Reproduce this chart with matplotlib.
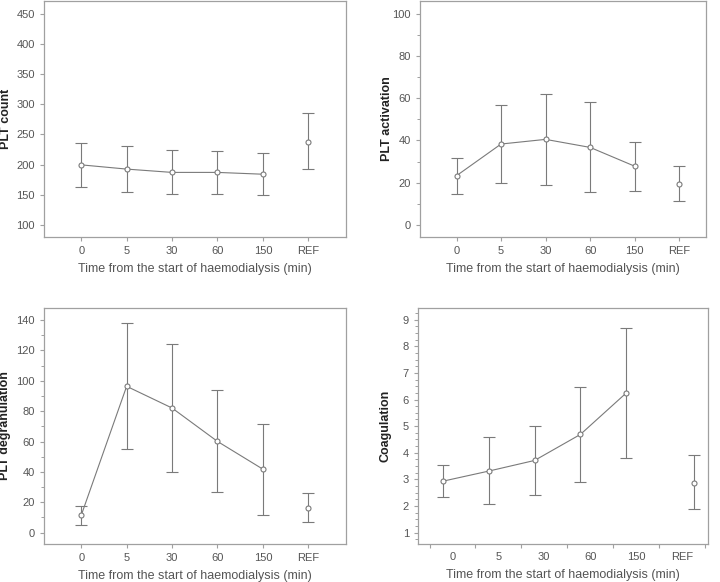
import numpy as np
import matplotlib
matplotlib.use('Agg')
import matplotlib.pyplot as plt
from matplotlib.ticker import MultipleLocator, FixedLocator, NullFormatter

plt.rcParams['font.family'] = ['Liberation Sans', 'DejaVu Sans']

categories = ['0', '5', '30', '60', '150', 'REF']

# PLT count
count_mean = [199.5, 192.5, 187, 187, 184, 238]
count_low = [162.7, 153.9, 151, 151, 149.5, 191.9]
count_high = [235.4, 231.5, 223.8, 223, 218.9, 285]

# PLT activation
act_mean = [23.3, 38.3, 40.5, 36.7, 27.8, 19.5]
act_low = [14.7, 19.7, 18.8, 15.5, 16.2, 11.3]
act_high = [31.9, 57, 61.9, 58.3, 39.2, 27.8]

# PLT degranulation
deg_mean = [11.4, 96.4, 82.1, 60.1, 41.8, 16.5]
deg_low = [5.3, 55.2, 40.1, 26.9, 11.4, 6.8]
deg_high = [17.8, 138, 124.1, 93.7, 71.8, 26.2]

# Coagulation
coag_mean = [2.93, 3.31, 3.71, 4.69, 6.25, 2.88]
coag_low = [2.32, 2.06, 2.43, 2.91, 3.79, 1.87]
coag_high = [3.53, 4.59, 5.0, 6.46, 8.69, 3.90]

LINE = '#7a7a7a'
SPINE = '#a0a0a0'
TXT = '#555555'

fig = plt.figure(figsize=(7.2, 5.82), dpi=100)

def panel(rect, mean, low, high, ylabel, ylim, major, minor=None,
          xlim=(-0.82, 5.83), offset=0.0, ref_offset=0.0, half_ticks=False,
          ylab_x=-0.1):
    ax = fig.add_axes(rect)
    mean = np.array(mean)
    low = np.array(low)
    high = np.array(high)
    x = np.arange(len(categories)).astype(float)
    x[:5] += offset
    x[5] += ref_offset
    yerr = [mean - low, high - mean]
    ax.errorbar(x[:5], mean[:5], yerr=[yerr[0][:5], yerr[1][:5]], fmt='o-',
                color=LINE, lw=0.8, elinewidth=0.8, capsize=4.5, capthick=0.8,
                ms=3.6, mfc='white', mec=LINE, mew=0.8)
    ax.errorbar(x[5:], mean[5:], yerr=[yerr[0][5:], yerr[1][5:]], fmt='o',
                color=LINE, elinewidth=0.8, capsize=4.5, capthick=0.8,
                ms=3.6, mfc='white', mec=LINE, mew=0.8)
    ax.set_xlim(*xlim)
    ax.set_ylim(*ylim)
    ax.yaxis.set_major_locator(MultipleLocator(major))
    if minor:
        ax.yaxis.set_minor_locator(MultipleLocator(minor))
    if half_ticks:
        ax.set_xticks(np.arange(-0.5, 6.0, 1.0))
        ax.xaxis.set_major_formatter(NullFormatter())
        ax.xaxis.set_minor_locator(FixedLocator(np.arange(6)))
        ax.set_xticklabels(categories, minor=True)
        ax.tick_params(axis='x', which='minor', length=0, labelsize=8,
                       labelcolor=TXT, pad=6)
        ax.tick_params(axis='x', which='major', length=3, color=SPINE)
    else:
        ax.set_xticks(np.arange(6))
        ax.set_xticklabels(categories)
        ax.tick_params(axis='x', length=3, color=SPINE)
    for s in ax.spines.values():
        s.set_color(SPINE)
        s.set_linewidth(0.9)
    ax.tick_params(axis='both', which='major', labelsize=8, labelcolor=TXT,
                   color=SPINE, width=0.8)
    ax.tick_params(axis='y', which='major', length=3)
    ax.tick_params(axis='y', which='minor', length=2, color=SPINE, width=0.7)
    ax.set_ylabel(ylabel, fontsize=9, fontweight='bold', color='#222222')
    ax.yaxis.set_label_coords(ylab_x, 0.5)
    ax.set_xlabel('Time from the start of haemodialysis (min)', fontsize=9,
                  color=TXT, labelpad=5)
    return ax

panel([0.0611, 0.5928, 0.4194, 0.4055], count_mean, count_low, count_high,
      'PLT count', (80, 471), 50, ylab_x=-0.106)
panel([0.5833, 0.5928, 0.3972, 0.4055], act_mean, act_low, act_high,
      'PLT activation', (-5.7, 106), 20, 10, xlim=(-0.82, 5.6), ylab_x=-0.094)
panel([0.0611, 0.0653, 0.4194, 0.4055], deg_mean, deg_low, deg_high,
      'PLT degranulation', (-7.5, 148), 20, 10, ylab_x=-0.109)
panel([0.5806, 0.0653, 0.4028, 0.4055], coag_mean, coag_low, coag_high,
      'Coagulation', (0.57, 9.44), 1, 0.25, xlim=(-0.75, 5.57),
      offset=-0.21, ref_offset=0.26, half_ticks=True, ylab_x=-0.09)

fig.savefig('out.png', dpi=100)
